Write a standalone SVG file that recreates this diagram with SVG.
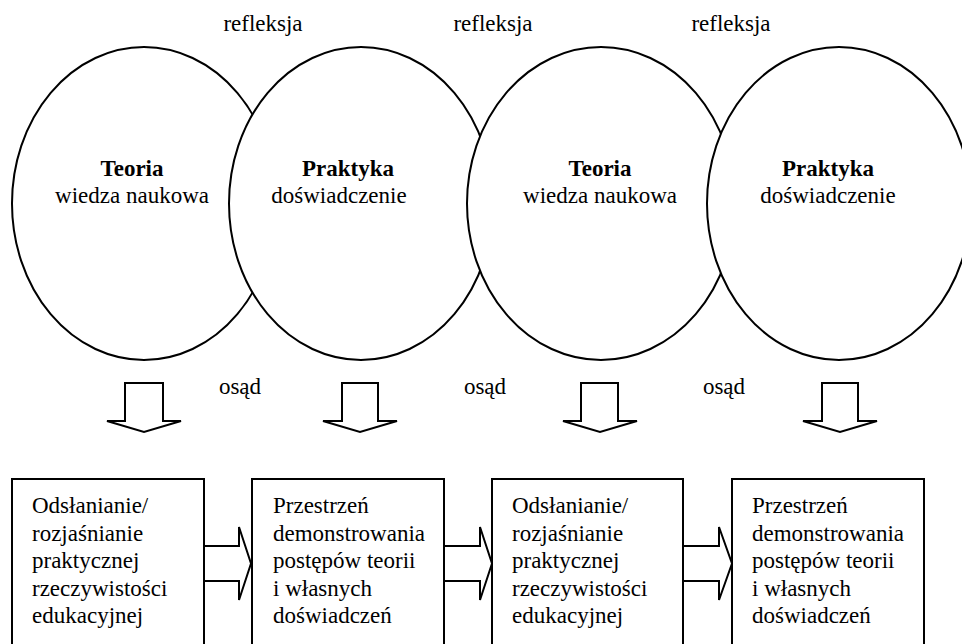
<svg xmlns="http://www.w3.org/2000/svg" width="962" height="644" viewBox="0 0 962 644" font-family="Liberation Serif, serif" font-size="23">
<style>
.ell{fill:#fff;stroke:#000;stroke-width:2}
.box{fill:#fff;stroke:#000;stroke-width:2}
.arr{fill:#fff;stroke:#000;stroke-width:2;stroke-linejoin:miter}
</style>
<rect width="962" height="644" fill="#fff"/>
<g id="labels" text-anchor="middle">
<text x="263" y="31" style="font-family:'Liberation Serif',serif">refleksja</text>
<text x="493" y="31" style="font-family:'Liberation Serif',serif">refleksja</text>
<text x="731" y="31" style="font-family:'Liberation Serif',serif">refleksja</text>
<text x="240" y="394" style="font-family:'Liberation Serif',serif">osąd</text>
<text x="485" y="394" style="font-family:'Liberation Serif',serif">osąd</text>
<text x="724" y="394" style="font-family:'Liberation Serif',serif">osąd</text>
</g>
<g id="ellipse1" text-anchor="middle">
<ellipse class="ell" cx="144" cy="203.5" rx="132" ry="156.5"/>
<text x="132" y="176" font-weight="bold" style="font-family:'Liberation Serif',serif">Teoria</text>
<text x="132" y="203" style="font-family:'Liberation Serif',serif">wiedza naukowa</text>
</g>
<g id="ellipse2" text-anchor="middle">
<ellipse class="ell" cx="361" cy="203.5" rx="132" ry="156.5"/>
<text x="348" y="176" font-weight="bold" style="font-family:'Liberation Serif',serif">Praktyka</text>
<text x="339" y="203" style="font-family:'Liberation Serif',serif">doświadczenie</text>
</g>
<g id="ellipse3" text-anchor="middle">
<ellipse class="ell" cx="601" cy="203.5" rx="134" ry="156.5"/>
<text x="600" y="176" font-weight="bold" style="font-family:'Liberation Serif',serif">Teoria</text>
<text x="600" y="203" style="font-family:'Liberation Serif',serif">wiedza naukowa</text>
</g>
<g id="ellipse4" text-anchor="middle">
<ellipse class="ell" cx="839" cy="203.5" rx="132" ry="156.5"/>
<text x="828" y="176" font-weight="bold" style="font-family:'Liberation Serif',serif">Praktyka</text>
<text x="828" y="203" style="font-family:'Liberation Serif',serif">doświadczenie</text>
</g>
<g id="connectors">
<polygon class="arr" points="125,383 163,383 163,421 181,421 144,432 107,421 125,421"/>
<polygon class="arr" points="342,383 378,383 378,421 397,421 360,432 323,421 342,421"/>
<polygon class="arr" points="581,383 618,383 618,421 637,421 600,432 563,421 581,421"/>
<polygon class="arr" points="822,383 858,383 858,421 877,421 840,432 803,421 822,421"/>
<polygon class="arr" points="204,546 239,546 239,527 251,563.5 239,600 239,581 204,581"/>
<polygon class="arr" points="444,546 480,546 480,527 492,563.5 480,600 480,581 444,581"/>
<polygon class="arr" points="683,546 719,546 719,527 732,563.5 719,600 719,581 683,581"/>
</g>
<g id="box1">
<rect class="box" x="12" y="479" width="192" height="180"/>
<text x="32" y="513" style="font-family:'Liberation Serif',serif">Odsłanianie/</text>
<text x="32" y="541" style="font-family:'Liberation Serif',serif">rozjaśnianie</text>
<text x="32" y="568" style="font-family:'Liberation Serif',serif">praktycznej</text>
<text x="32" y="596" style="font-family:'Liberation Serif',serif">rzeczywistości</text>
<text x="32" y="623" style="font-family:'Liberation Serif',serif">edukacyjnej</text>
</g>
<g id="box2">
<rect class="box" x="252" y="479" width="192" height="180"/>
<text x="273" y="513" style="font-family:'Liberation Serif',serif">Przestrzeń</text>
<text x="273" y="541" style="font-family:'Liberation Serif',serif">demonstrowania</text>
<text x="273" y="568" style="font-family:'Liberation Serif',serif">postępów teorii</text>
<text x="273" y="596" style="font-family:'Liberation Serif',serif">i własnych</text>
<text x="273" y="623" style="font-family:'Liberation Serif',serif">doświadczeń</text>
</g>
<g id="box3">
<rect class="box" x="492" y="479" width="191" height="180"/>
<text x="512" y="513" style="font-family:'Liberation Serif',serif">Odsłanianie/</text>
<text x="512" y="541" style="font-family:'Liberation Serif',serif">rozjaśnianie</text>
<text x="512" y="568" style="font-family:'Liberation Serif',serif">praktycznej</text>
<text x="512" y="596" style="font-family:'Liberation Serif',serif">rzeczywistości</text>
<text x="512" y="623" style="font-family:'Liberation Serif',serif">edukacyjnej</text>
</g>
<g id="box4">
<rect class="box" x="732" y="479" width="192" height="180"/>
<text x="752" y="513" style="font-family:'Liberation Serif',serif">Przestrzeń</text>
<text x="752" y="541" style="font-family:'Liberation Serif',serif">demonstrowania</text>
<text x="752" y="568" style="font-family:'Liberation Serif',serif">postępów teorii</text>
<text x="752" y="596" style="font-family:'Liberation Serif',serif">i własnych</text>
<text x="752" y="623" style="font-family:'Liberation Serif',serif">doświadczeń</text>
</g>
</svg>
